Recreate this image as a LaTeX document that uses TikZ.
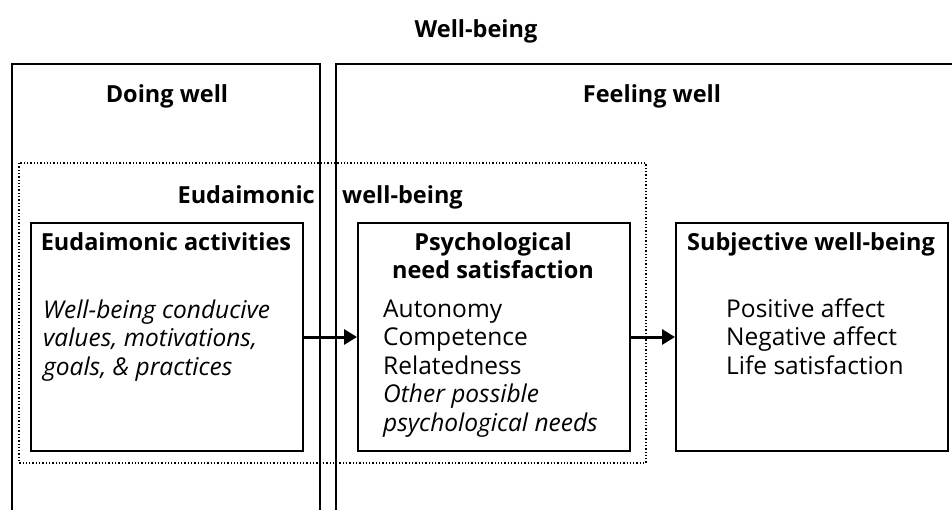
\documentclass[tikz,border=0pt]{standalone}
\usepackage{fontspec}
\setmainfont{Open Sans}
\usetikzlibrary{arrows.meta}
\begin{document}
\begin{tikzpicture}[x=1pt,y=-1pt,
  outer/.style={line width=1.6pt},
  inbox/.style={draw,line width=1.8pt,minimum width=272pt,minimum height=228pt,anchor=north west},
  dotbox/.style={line width=1.3pt,dotted},
  head/.style={font=\fontsize{23.5}{28}\selectfont\bfseries,align=center,inner sep=0pt,anchor=base},
  body/.style={font=\fontsize{24.5}{28.5}\selectfont,align=left,anchor=north west,inner sep=0pt},
  conn/.style={line width=3pt,-{Triangle[length=13pt,width=15pt]}}]
\useasboundingbox (0,0) rectangle (952,509);
\begin{scope}
\clip (0,0) rectangle (952,509);
% outer boxes (open at bottom)
\draw[outer] (12,520) -- (12,64) -- (320,64) -- (320,520);
\draw[outer] (336,520) -- (336,64) -- (970,64);
\end{scope}
% dotted eudaimonic box
\draw[dotbox] (19,163) rectangle (646,463);
% inner boxes
\node[inbox] (ea) at (30,222) {};
\node[inbox] (ps) at (357,222) {};
\node[inbox] (sw) at (675,222) {};
% titles
\node[head] (wb) at (476,37) {Well-being};
\node[head] (dw) at (167,102) {Doing well};
\node[head] (fw) at (652,102) {Feeling well};
\node[head,anchor=base east] (eu) at (315,203) {Eudaimonic};
\node[head,anchor=base west] (wb2) at (342,203) {well-being};
% box headings
\node[head] (eah) at (166,250) {Eudaimonic activities};
\node[head,anchor=north] (psh) at (493,232) {Psychological\\need satisfaction};
\node[head] (swh) at (811,250) {Subjective well-being};
% bodies
\node[body] (eab) at (43,299.5) {\itshape Well-being conducive\\\itshape values, motivations,\\\itshape goals, \& practices};
\node[body] (psb) at (383,299.5) {Autonomy\\Competence\\Relatedness\\\itshape Other possible\\\itshape psychological needs};
\node[body] (swb) at (726,298.5) {Positive affect\\Negative affect\\Life satisfaction};
% connectors
\draw[conn] (ea.east |- 0,337) -- (ps.west |- 0,337);
\draw[conn] (ps.east |- 0,337) -- (sw.west |- 0,337);
\end{tikzpicture}
\end{document}
